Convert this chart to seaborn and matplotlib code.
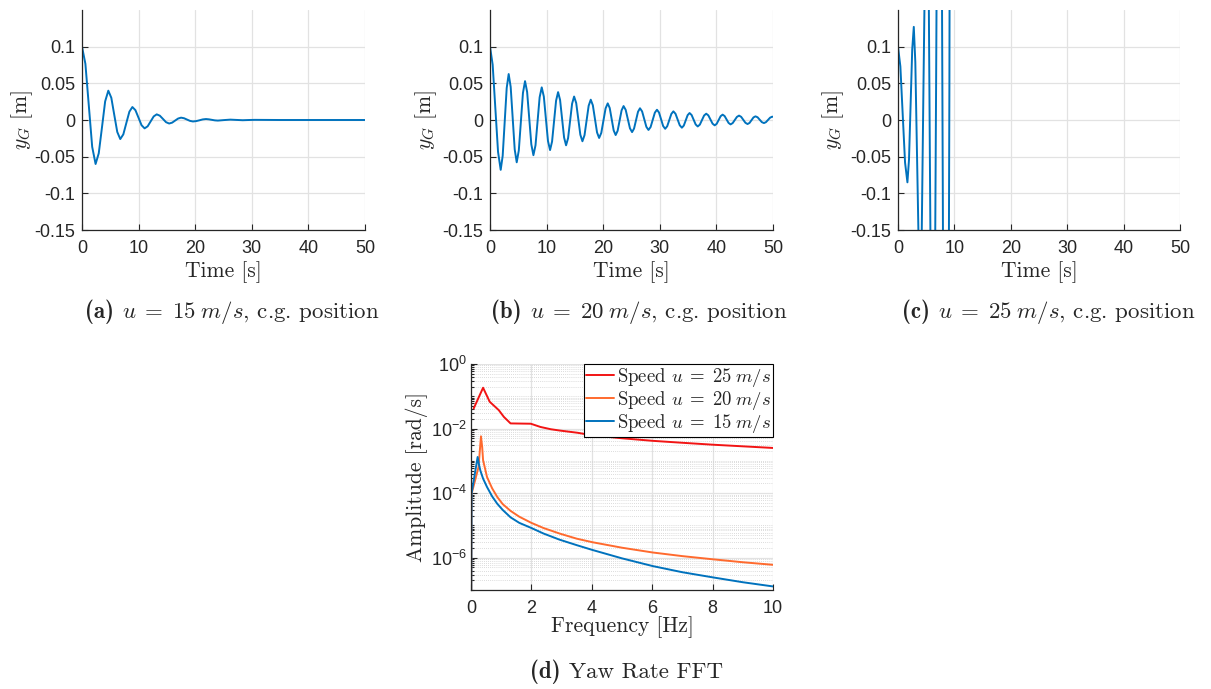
import numpy as np
import pandas as pd
import matplotlib
matplotlib.use("Agg")
import matplotlib.pyplot as plt
import seaborn as sns
from matplotlib.ticker import LogLocator, NullFormatter, FixedLocator
from matplotlib.offsetbox import TextArea, HPacker, AnnotationBbox

# ---------------- data ----------------
# (a) u = 15 m/s, lateral c.g. position
t_a = [0, 0.6, 1.2, 1.8, 2.4, 2.96, 3.53, 4.09, 4.65, 5.18, 5.7, 6.23, 6.76,
       7.3, 7.83, 8.37, 8.9, 9.44, 9.98, 10.52, 11.06, 11.6, 12.13, 12.67, 13.2,
       13.75, 14.3, 14.85, 15.4, 15.93, 16.45, 16.98, 17.5, 18.03, 18.55, 19.08,
       19.6, 20.18, 20.75, 21.33, 21.9, 22.43, 22.95, 23.48, 24.0, 25.1, 26.2,
       27.3, 28.4, 29.5, 30.5, 35, 40, 45, 50]
y_a = [0.1, 0.0766, 0.02, -0.0366, -0.06, -0.0454, -0.01, 0.0254, 0.04, 0.0303,
       0.007, -0.0163, -0.026, -0.0196, -0.0042, 0.0113, 0.0177, 0.0134, 0.0032,
       -0.0071, -0.0114, -0.0086, -0.0019, 0.0049, 0.0077, 0.0059, 0.0015, -0.003,
       -0.0048, -0.0036, -0.0008, 0.002, 0.0032, 0.0024, 0.0006, -0.0012, -0.002,
       -0.0015, -0.0004, 0.0008, 0.0013, 0.0009, 0.0002, -0.0005, -0.0008, -0.0001,
       0.0005, 0.0001, -0.0003, 0.0, 0.0002, 0.0, 0.0, 0.0, 0.0]

# (b) u = 20 m/s
t_b = [0, 0.47, 0.945, 1.42, 1.89, 2.24, 2.60, 2.95, 3.30, 3.655, 4.01, 4.365,
       4.72, 5.09, 5.455, 5.82, 6.19, 6.56, 6.93, 7.30, 7.67, 8.04, 8.405, 8.77,
       9.14, 9.51, 9.875, 10.24, 10.61, 10.965, 11.32, 11.675, 12.03, 12.38,
       12.735, 13.09, 13.44, 13.795, 14.15, 14.505, 14.86, 15.23, 15.595, 15.96,
       16.33, 16.70, 17.065, 17.43, 17.80, 18.17, 18.54, 18.91, 19.28, 19.66,
       20.04, 20.42, 20.80, 21.15, 21.5, 21.85, 22.20, 22.55, 22.9, 23.25, 23.60,
       23.975, 24.35, 24.725, 25.10, 25.45, 25.8, 26.15, 26.50, 26.875, 27.25,
       27.625, 28.00, 28.375, 28.75, 29.125, 29.50, 29.86, 30.225, 30.59, 30.95,
       31.31, 31.675, 32.04, 32.40, 32.775, 33.15, 33.525, 33.90, 34.24, 34.58,
       34.92, 35.26, 35.62, 35.98, 36.34, 36.70, 37.075, 37.45, 37.825, 38.20,
       38.575, 38.95, 39.325, 39.70, 40.05, 40.4, 40.75, 41.10, 41.45, 41.8, 42.15,
       42.50, 42.875, 43.25, 43.625, 44.00, 44.375, 44.75, 45.125, 45.50, 45.85,
       46.2, 46.55, 46.90, 47.275, 47.65, 48.025, 48.40, 48.76, 49.125, 49.49,
       49.85, 50.0]
y_b = [0.1, 0.0754, 0.016, -0.0434, -0.068, -0.0489, -0.0027, 0.0436, 0.0627,
       0.0451, 0.0025, -0.0401, -0.0577, -0.0415, -0.0024, 0.0368, 0.053, 0.0382,
       0.0025, -0.0332, -0.048, -0.0345, -0.0018, 0.031, 0.0445, 0.032, 0.0018,
       -0.0285, -0.041, -0.0294, -0.0015, 0.0264, 0.038, 0.0274, 0.0018, -0.0239,
       -0.0345, -0.0248, -0.0013, 0.0223, 0.032, 0.0231, 0.0015, -0.0201, -0.029,
       -0.0207, -0.0007, 0.0194, 0.0277, 0.0201, 0.0016, -0.0169, -0.0245, -0.0176,
       -0.0009, 0.0158, 0.0227, 0.0164, 0.0011, -0.0142, -0.0205, -0.0147, -0.0008,
       0.0132, 0.019, 0.0138, 0.0013, -0.0113, -0.0165, -0.0117, -0.0003, 0.0112,
       0.016, 0.0117, 0.0012, -0.0093, -0.0136, -0.0096, 0.0002, 0.01, 0.014,
       0.0102, 0.001, -0.0082, -0.012, -0.0085, -0.0001, 0.0083, 0.0118, 0.0085,
       0.0007, -0.0072, -0.0105, -0.0076, -0.0005, 0.0066, 0.0095, 0.0068, 0.0004,
       -0.0061, -0.0088, -0.0063, -0.0001, 0.0061, 0.0086, 0.0063, 0.0007, -0.005,
       -0.0073, -0.0052, 0.0, 0.0052, 0.0073, 0.0054, 0.0007, -0.004, -0.006,
       -0.0042, 0.0, 0.0042, 0.006, 0.0043, 0.0003, -0.0038, -0.0055, -0.004,
       -0.0003, 0.0035, 0.005, 0.0037, 0.0004, -0.0029, -0.0042, -0.0029, 0.0002,
       0.0032, 0.0045, 0.0044]

# (c) u = 25 m/s (unstable, simulation stops after ~9 s)
t_c = [0, 0.42, 0.835, 1.25, 1.67, 1.95, 2.235, 2.52, 2.8, 3.07, 3.345, 3.62,
       3.92, 4.2, 4.505, 4.81, 5.12, 5.385, 5.65, 5.915, 6.18, 6.47, 6.765, 7.06,
       7.35, 7.645, 7.94, 8.235, 8.53, 8.82, 9.115, 9.25]
y_c = [0.1, 0.073, 0.0075, -0.058, -0.085, -0.054, 0.021, 0.096, 0.127, 0.079,
       -0.0365, -0.152, -0.2, -0.16, 0.04, 0.228, 0.3, 0.25, -0.05, -0.34, -0.45,
       -0.33, 0.06, 0.489, 0.65, 0.45, -0.09, -0.716, -0.95, -0.65, 0.05, 0.6]

# (d) yaw-rate FFT amplitude spectra [rad/s]
f_25 = [0.09, 0.40, 0.62, 0.92, 1.09, 1.31, 1.98, 2.3, 2.64, 2.93, 3.53, 4.02,
        5.0, 6.02, 7.0, 8.02, 9.0, 10.0]
amp_25 = [0.0421, 0.184, 0.0676, 0.0372, 0.0229, 0.01445, 0.01413, 0.01122,
          0.00955, 0.00871, 0.00741, 0.00617, 0.00501, 0.00417, 0.00363, 0.00316,
          0.00282, 0.00251]
f_20 = [0, 0.02, 0.25, 0.33, 0.37, 0.40, 0.53, 0.70, 0.87, 1.05, 1.31, 1.60, 2.0,
        2.4, 2.93, 3.5, 4.02, 5.0, 6.02, 7.0, 8.02, 9.0, 10.0]
amp_20 = [1e-9, 9.55e-5, 6.46e-4, 5.75e-3, 2.69e-3, 1.05e-3, 3.16e-4, 1.41e-4,
          7.59e-5, 4.57e-5, 2.82e-5, 1.86e-5, 1.20e-5, 8.32e-6, 5.62e-6, 3.89e-6,
          3.02e-6, 2.04e-6, 1.45e-6, 1.12e-6, 8.91e-7, 7.24e-7, 6.03e-7]
f_15 = [0, 0.02, 0.1, 0.22, 0.26, 0.31, 0.40, 0.53, 0.70, 0.87, 1.05, 1.31, 1.6,
        2.0, 2.4, 2.93, 3.5, 4.02, 5.0, 6.02, 7.0, 8.02, 9.0, 10.0]
amp_15 = [1e-9, 1.0e-4, 2.82e-4, 1.32e-3, 7.94e-4, 5.01e-4, 2.82e-4, 1.55e-4,
          7.94e-5, 4.68e-5, 3.02e-5, 1.78e-5, 1.20e-5, 8.32e-6, 5.62e-6, 3.63e-6,
          2.45e-6, 1.74e-6, 9.55e-7, 5.50e-7, 3.55e-7, 2.45e-7, 1.74e-7, 1.29e-7]

time_ticks = [0, 10, 20, 30, 40, 50]
pos_ticks = [-0.15, -0.1, -0.05, 0, 0.05, 0.1]
pos_tick_labels = ["-0.15", "-0.1", "-0.05", "0", "0.05", "0.1"]
freq_ticks = [0, 2, 4, 6, 8, 10]
amp_ticks = [1e-6, 1e-4, 1e-2, 1e0]
amp_tick_labels = [r"$\mathdefault{10^{-6}}$", r"$\mathdefault{10^{-4}}$",
                   r"$\mathdefault{10^{-2}}$", r"$\mathdefault{10^{0}}$"]

caption_tags = ["(a)", "(b)", "(c)", "(d)"]
caption_texts = [r"$u\;=\;15\;m/s$, c.g. position",
                 r"$u\;=\;20\;m/s$, c.g. position",
                 r"$u\;=\;25\;m/s$, c.g. position",
                 "Yaw Rate FFT"]
legend_labels = [r"Speed $u\;=\;25\;m/s$", r"Speed $u\;=\;20\;m/s$",
                 r"Speed $u\;=\;15\;m/s$"]

# ---------------- style ----------------
sns.set_theme(style="white")
plt.rcParams.update({
    "font.family": ["Liberation Sans", "DejaVu Sans"],
    "mathtext.fontset": "cm",
    "axes.unicode_minus": False,
})

BLUE = "#0072BD"
ORANGE = "#FF6A2E"
RED = "#F21414"
GRID = "#E2E2E2"
AXC = "#262626"
SERIF = "cmr10"
LABEL_SIZE = 15.5
TICK_SIZE = 13

fig = plt.figure(figsize=(12.11, 6.89), dpi=100)


def style_axis(ax, ypad=5):
    ax.set_axisbelow(True)
    for side in ("top", "right"):
        ax.spines[side].set_visible(False)
    for side in ("left", "bottom"):
        ax.spines[side].set_color(AXC)
        ax.spines[side].set_linewidth(0.9)
    ax.tick_params(which="both", direction="in", colors=AXC, labelsize=TICK_SIZE,
                   width=0.8, left=True, bottom=True)
    ax.tick_params(which="major", length=4)
    ax.tick_params(axis="y", pad=ypad)
    ax.tick_params(axis="x", pad=7)


def set_labels(ax, xlabel, ylabel, xy_x, xy_y):
    ax.set_xlabel(xlabel, fontsize=LABEL_SIZE, family=SERIF)
    ax.set_ylabel(ylabel, fontsize=LABEL_SIZE, family=SERIF)
    ax.xaxis.label.set_va("center")
    ax.yaxis.label.set_va("center")
    ax.xaxis.set_label_coords(0.5, xy_y)
    ax.yaxis.set_label_coords(xy_x, 0.5)


def time_panel(rect, t, y, label_x):
    ax = fig.add_axes(rect)
    df = pd.DataFrame({"t": t, "y": y})
    sns.lineplot(data=df, x="t", y="y", ax=ax, color=BLUE, linewidth=1.4,
                 estimator=None, sort=False)
    ax.set_xlim(0, 50)
    ax.set_ylim(-0.15, 0.15)
    ax.set_xticks(time_ticks)
    ax.set_yticks(pos_ticks)
    ax.set_yticklabels(pos_tick_labels)
    ax.grid(True, color=GRID, linewidth=0.9)
    style_axis(ax)
    set_labels(ax, "Time [s]", r"$y_G$ [m]", label_x, -0.19)
    return ax


time_panel([82 / 1211, 1 - 230 / 689, 283 / 1211, 220 / 689], t_a, y_a, -0.212)
time_panel([490 / 1211, 1 - 230 / 689, 283 / 1211, 220 / 689], t_b, y_b, -0.226)
time_panel([898 / 1211, 1 - 230 / 689, 282 / 1211, 220 / 689], t_c, y_c, -0.23)

# FFT panel
axd = fig.add_axes([471 / 1211, 1 - 590 / 689, 302 / 1211, 226 / 689])
axd.set_yscale("log")
spectra = [(f_25, amp_25, RED), (f_20, amp_20, ORANGE), (f_15, amp_15, BLUE)]
for (f, a, c), lab in zip(spectra, legend_labels):
    df = pd.DataFrame({"f": f, "amp": a})
    sns.lineplot(data=df, x="f", y="amp", ax=axd, color=c, linewidth=1.4,
                 estimator=None, sort=False, label=lab)
axd.set_xlim(0, 10)
axd.set_ylim(1e-7, 1)
axd.set_xticks(freq_ticks)
axd.yaxis.set_major_locator(FixedLocator(amp_ticks))
axd.set_yticklabels(amp_tick_labels)
axd.yaxis.set_minor_locator(LogLocator(base=10, subs=np.arange(1, 10), numticks=50))
axd.yaxis.set_minor_formatter(NullFormatter())
axd.grid(True, which="major", color=GRID, linewidth=0.9)
axd.grid(True, which="minor", axis="y", color="#D0D0D0", linewidth=0.6,
         linestyle=(0, (1, 1.5)))
style_axis(axd, ypad=3)
axd.tick_params(which="minor", length=2.5)
set_labels(axd, "Frequency [Hz]", "Amplitude [rad/s]", -0.178, -0.164)
leg = axd.legend(loc="upper right", bbox_to_anchor=(1.0, 1.0), borderaxespad=0,
                 frameon=True, fancybox=False, edgecolor="black", framealpha=1,
                 prop={"family": SERIF, "size": 13.5}, handlelength=1.5,
                 handletextpad=0.15, borderpad=0.1, labelspacing=0.0)
leg.get_frame().set_linewidth(0.8)

# sub-figure captions: bold tag followed by roman text
cap_pos = [(232, 312), (639, 312), (1049, 312), (627, 672)]
for (cx, cy), tag, txt in zip(cap_pos, caption_tags, caption_texts):
    box = HPacker(children=[TextArea(tag, textprops=dict(family="cmb10", size=16.5)),
                            TextArea(txt, textprops=dict(family=SERIF, size=16.5))],
                  align="baseline", pad=0, sep=6)
    fig.add_artist(AnnotationBbox(box, (cx / 1211, 1 - cy / 689),
                                  xycoords="figure fraction", frameon=False,
                                  box_alignment=(0.5, 0.5)))

fig.savefig("out.png", dpi=100, facecolor="white")
